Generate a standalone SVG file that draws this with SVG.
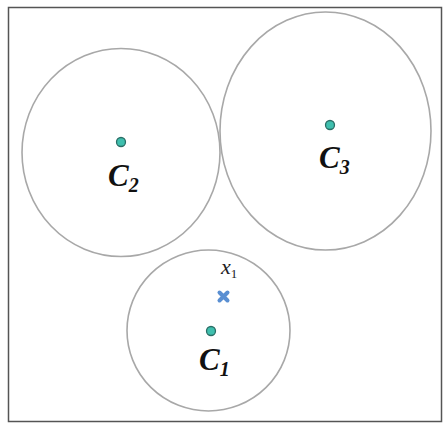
<svg xmlns="http://www.w3.org/2000/svg" width="444" height="424" viewBox="0 0 444 424">
<style>
.ring{fill:none;stroke:#a8a8a8;stroke-width:1.6}
.dot{fill:#3fbfae;stroke:#2a6e66;stroke-width:1.3}
.lab{font-family:"Liberation Serif",serif;font-style:italic;font-weight:bold;fill:#111}
.x{font-family:"Liberation Serif",serif;font-style:italic;fill:#222}
.mk{stroke:#5a8fd2;stroke-width:4;stroke-linecap:round}
</style>
<rect x="8.5" y="7.5" width="433" height="414" fill="#fff" stroke="#555" stroke-width="1.5"/>
<g id="cluster2">
<ellipse class="ring" cx="121" cy="152.5" rx="99" ry="104"/>
<circle class="dot" cx="121" cy="142" r="4.5"/>
<text class="lab" x="108" y="186" font-size="31">C<tspan font-size="20" dy="6">2</tspan></text>
</g>
<g id="cluster3">
<ellipse class="ring" cx="325.5" cy="131" rx="105.5" ry="119"/>
<circle class="dot" cx="330" cy="125" r="4.5"/>
<text class="lab" x="319" y="168" font-size="31">C<tspan font-size="20" dy="6">3</tspan></text>
</g>
<g id="cluster1">
<ellipse class="ring" cx="208.5" cy="330.5" rx="81.5" ry="80.5"/>
<circle class="dot" cx="211" cy="331" r="4.5"/>
<text class="lab" x="199" y="370" font-size="31">C<tspan font-size="20" dy="6">1</tspan></text>
</g>
<g id="point-x1">
<path class="mk" d="M219.5 292.5 L227.5 300.5 M227.5 292.5 L219.5 300.5"/>
<text class="x" x="221" y="274" font-size="22">x<tspan font-style="normal" font-size="13" dy="4">1</tspan></text>
</g>
<g id="connectors"/>
</svg>
